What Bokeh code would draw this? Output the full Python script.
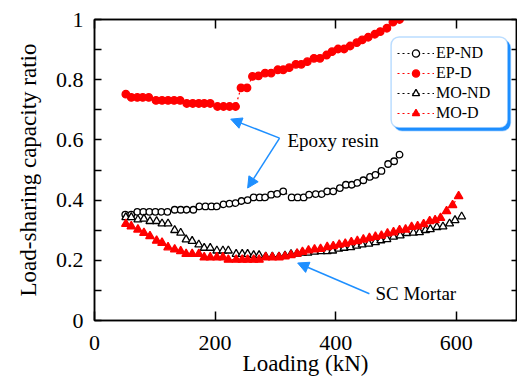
from bokeh.plotting import figure
from bokeh.models import (Range1d, LinearAxis, FixedTicker, Legend, LegendItem,
                          Label, Arrow, NormalHead, BoxAnnotation)
from bokeh.embed import file_html
from bokeh.resources import INLINE

FONT = "Times"
BLUE = "#1E8FFF"

# ---------------- data ----------------
ep_nd_x = [51, 61, 71, 81, 91, 101, 111, 121, 133, 143, 153, 164, 174, 184, 194, 203,
           214, 224, 234, 244, 254, 264, 274, 283, 293, 303, 313, 327, 337, 347, 356,
           367, 377, 386, 396, 407, 417, 427, 436, 446, 457, 466, 476, 487, 497, 506]
ep_nd_y = [0.352, 0.352, 0.361, 0.361, 0.361, 0.361, 0.361, 0.361, 0.368, 0.368, 0.368,
           0.368, 0.379, 0.379, 0.379, 0.379, 0.386, 0.388, 0.390, 0.397, 0.400, 0.409,
           0.409, 0.409, 0.418, 0.421, 0.429, 0.409, 0.409, 0.409, 0.418, 0.420, 0.420,
           0.429, 0.429, 0.440, 0.451, 0.451, 0.457, 0.466, 0.477, 0.484, 0.497, 0.520,
           0.529, 0.551]

ep_d_x = [52, 61, 71, 80, 90, 102, 112, 122, 132, 142, 153, 163, 173, 182, 192, 204,
          214, 224, 234, 243, 253, 262, 272, 283, 293, 304, 313, 323, 334, 343, 353,
          364, 374, 385, 394, 404, 414, 424, 435, 444, 454, 465, 474, 485, 495, 506]
ep_d_y = [0.752, 0.741, 0.741, 0.741, 0.741, 0.731, 0.731, 0.731, 0.731, 0.731, 0.721,
          0.721, 0.721, 0.721, 0.721, 0.711, 0.711, 0.711, 0.711, 0.773, 0.773, 0.811,
          0.813, 0.822, 0.822, 0.833, 0.833, 0.840, 0.851, 0.851, 0.860, 0.871, 0.871,
          0.882, 0.893, 0.902, 0.902, 0.912, 0.923, 0.932, 0.941, 0.951, 0.960, 0.971,
          0.991, 1.000]

mo_nd_x = [52, 61, 72, 82, 92, 103, 112, 122, 133, 143, 152, 162, 173, 182, 192, 203,
           213, 222, 235, 245, 254, 264, 273, 284, 295, 306, 316, 326, 336, 345, 354,
           365, 376, 386, 395, 405, 414, 425, 435, 444, 455, 466, 475, 485, 496, 507,
           518, 529, 539, 549, 557, 568, 578, 589, 598, 609]
mo_nd_y = [0.343, 0.343, 0.335, 0.338, 0.330, 0.330, 0.322, 0.322, 0.300, 0.291, 0.269,
           0.264, 0.252, 0.241, 0.241, 0.232, 0.232, 0.232, 0.221, 0.221, 0.221, 0.217,
           0.217, 0.212, 0.212, 0.212, 0.215, 0.220, 0.222, 0.225, 0.225, 0.228, 0.230,
           0.230, 0.232, 0.238, 0.241, 0.243, 0.248, 0.252, 0.255, 0.260, 0.266, 0.270,
           0.278, 0.282, 0.290, 0.291, 0.293, 0.300, 0.303, 0.310, 0.312, 0.322, 0.333,
           0.345]

mo_d_x = [52, 61, 72, 82, 92, 103, 112, 122, 133, 143, 152, 162, 173, 182, 192, 203,
          213, 222, 235, 245, 254, 264, 273, 284, 295, 306, 316, 326, 336, 345, 355,
          365, 375, 386, 396, 406, 416, 426, 436, 446, 456, 466, 476, 486, 496, 506,
          516, 526, 536, 546, 556, 565, 574, 584, 594, 604]
mo_d_y = [0.321, 0.313, 0.302, 0.291, 0.280, 0.265, 0.258, 0.243, 0.236, 0.230, 0.221,
          0.221, 0.221, 0.210, 0.210, 0.210, 0.210, 0.202, 0.202, 0.202, 0.202, 0.202,
          0.202, 0.210, 0.210, 0.210, 0.213, 0.217, 0.222, 0.228, 0.233, 0.236, 0.238,
          0.244, 0.247, 0.252, 0.255, 0.260, 0.264, 0.269, 0.274, 0.278, 0.282, 0.289,
          0.293, 0.300, 0.302, 0.311, 0.313, 0.320, 0.330, 0.333, 0.341, 0.363, 0.383,
          0.413]

x_ticks = [0, 200, 400, 600]
y_ticks = [0, 0.2, 0.4, 0.6, 0.8, 1]
y_tick_labels = ["0", "0.2", "0.4", "0.6", "0.8", "1"]
y_minor = [0.1, 0.3, 0.5, 0.7, 0.9]

# ---------------- figure ----------------
p = figure(width=517, height=378, output_backend="svg", toolbar_location=None,
           x_range=Range1d(0, 700), y_range=Range1d(0, 1),
           min_border_left=94, min_border_right=1, min_border_top=19,
           min_border_bottom=57)
p.grid.visible = False
p.background_fill_color = "white"
p.border_fill_color = "white"
p.outline_line_color = "black"
p.outline_line_width = 1.5

xa = p.xaxis[0]
xa.ticker = FixedTicker(ticks=x_ticks)
ya = p.yaxis[0]
ya.ticker = FixedTicker(ticks=y_ticks, minor_ticks=y_minor)
ya.major_label_overrides = {t: l for t, l in zip(y_ticks, y_tick_labels)}

for ax in (xa, ya):
    ax.axis_line_width = 1.5
    ax.major_tick_line_width = 1.5
    ax.minor_tick_line_width = 1.5
    ax.major_tick_out = 0
    ax.minor_tick_out = 0
    ax.major_label_text_font = FONT
    ax.major_label_text_font_size = "22px"
    ax.major_label_text_color = "black"
    ax.axis_label_text_font = FONT
    ax.axis_label_text_font_size = "23px"
    ax.axis_label_text_font_style = "normal"
    ax.axis_label_text_color = "black"
xa.major_tick_in = 9
xa.minor_tick_in = 0
xa.major_label_standoff = 15
xa.axis_label = "Loading (kN)"
xa.axis_label_standoff = -2
ya.major_tick_in = 7
ya.minor_tick_in = 7
ya.major_label_standoff = 11
ya.axis_label = "Load-sharing capacity ratio"
ya.axis_label_standoff = 12

top = LinearAxis(ticker=FixedTicker(ticks=x_ticks), major_label_text_font_size="1px",
                 major_label_text_color=None, major_label_text_font=FONT,
                 major_label_standoff=0, major_tick_in=9, major_tick_out=0,
                 minor_tick_in=0, minor_tick_out=0, axis_line_width=1.5,
                 major_tick_line_width=1.5)
right = LinearAxis(ticker=FixedTicker(ticks=y_ticks, minor_ticks=y_minor),
                   major_label_text_font_size="1px", major_label_text_color=None,
                   major_label_text_font=FONT, major_label_standoff=0,
                   major_tick_in=5, major_tick_out=0, minor_tick_in=5, minor_tick_out=0,
                   axis_line_width=1.5, major_tick_line_width=1.5, minor_tick_line_width=1.5)
p.add_layout(top, "above")
p.add_layout(right, "right")

# ---------------- series ----------------
def series(x, y, color, marker, size, filled):
    ln = p.line(x, y, line_color=color, line_width=1.2, line_dash="2 3")
    sc = p.scatter(x, y, marker=marker, size=size, line_color=color, line_width=1.3,
                   fill_color=color if filled else "white")
    return [ln, sc]

r1 = series(ep_nd_x, ep_nd_y, "black", "circle", 6.5, False)
r2 = series(ep_d_x, ep_d_y, "red", "circle", 7.5, True)
r3 = series(mo_nd_x, mo_nd_y, "black", "triangle", 8, False)
r4 = series(mo_d_x, mo_d_y, "red", "triangle", 8.5, True)

# ---------------- legend box ----------------
shadow = BoxAnnotation(left=497, right=690, top=0.932, bottom=0.630,
                       fill_color=BLUE, fill_alpha=1, line_color=BLUE, line_width=1.5)
box = BoxAnnotation(left=492, right=685.5, top=0.942, bottom=0.640,
                    fill_color="white", fill_alpha=1, line_color=BLUE, line_width=1.5)
for b in (shadow, box):
    try:
        b.border_radius = 8
    except Exception:
        pass
    p.add_layout(b)

legend = Legend(items=[LegendItem(label="EP-ND", renderers=r1),
                       LegendItem(label="EP-D", renderers=r2),
                       LegendItem(label="MO-ND", renderers=r3),
                       LegendItem(label="MO-D", renderers=r4)],
                location=(296, 191), margin=0, padding=7, spacing=2,
                glyph_width=37, glyph_height=18, label_height=18, label_standoff=2,
                label_width=64, background_fill_alpha=0, border_line_alpha=0,
                label_text_font=FONT, label_text_font_size="16px",
                label_text_color="black")
p.add_layout(legend)

# ---------------- annotations ----------------
head = lambda: NormalHead(size=11, fill_color=BLUE, line_color=BLUE, line_width=1)
p.add_layout(Arrow(end=head(), x_start=307, y_start=0.606, x_end=226, y_end=0.669,
                   line_color=BLUE, line_width=1.5))
p.add_layout(Arrow(end=head(), x_start=307, y_start=0.606, x_end=254, y_end=0.44,
                   line_color=BLUE, line_width=1.5))
p.add_layout(Arrow(end=head(), x_start=456, y_start=0.089, x_end=337, y_end=0.191,
                   line_color=BLUE, line_width=1.5))
p.add_layout(Label(x=320, y=0.599, text="Epoxy resin", text_font=FONT,
                   text_font_size="19px", text_baseline="middle", text_align="left",
                   text_color="black"))
p.add_layout(Label(x=466, y=0.089, text="SC Mortar", text_font=FONT,
                   text_font_size="19px", text_baseline="middle", text_align="left",
                   text_color="black"))

open("out.html", "w").write(file_html(p, INLINE))
